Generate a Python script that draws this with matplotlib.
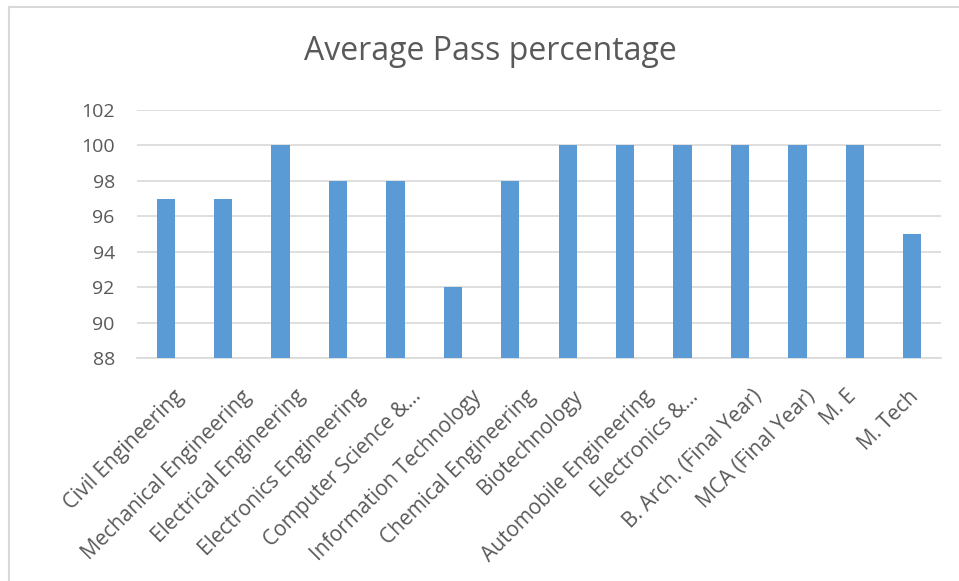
import matplotlib.pyplot as plt
import matplotlib.transforms as mtransforms
from matplotlib.lines import Line2D

categories = ['Civil Engineering', 'Mechanical Engineering', 'Electrical Engineering',
              'Electronics Engineering', 'Computer Science &...', 'Information Technology',
              'Chemical Engineering', 'Biotechnology', 'Automobile Engineering',
              'Electronics &...', 'B. Arch. (Final Year)', 'MCA (Final Year)', 'M. E', 'M. Tech']
pass_pct = [97, 97, 100, 98, 98, 92, 98, 100, 100, 100, 100, 100, 100, 95]
y_ticks = [88, 90, 92, 94, 96, 98, 100, 102]

plt.rcParams['font.family'] = ['Open Sans', 'DejaVu Sans']
text_color = '#595959'

fig = plt.figure(figsize=(9.59, 5.81), dpi=100)
W, H = 959, 581
ax = fig.add_axes([137 / W, 1 - 358 / H, (941 - 137) / W, (358 - 110) / H])

x = list(range(len(categories)))
ax.bar(x, pass_pct, width=0.32, color='#5B9BD5', zorder=3)

ax.set_ylim(88, 102)
ax.set_xlim(-0.5, len(categories) - 0.5)
ax.set_yticks(y_ticks)
ax.set_yticklabels([str(v) for v in y_ticks], fontsize=14, color=text_color)
ax.set_xticks(x)
ax.set_xticklabels([])
ax.tick_params(axis='both', length=0)
ax.tick_params(axis='y', pad=16)

# rotated category labels; like Excel, longer labels sit a bit further right
trans = ax.get_xaxis_transform()
renderer = fig.canvas.get_renderer()
for i, name in enumerate(categories):
    t = ax.text(i, 0, name, rotation=45, ha='right', va='top', rotation_mode='anchor',
                fontsize=15, color=text_color, transform=trans)
    bb = t.get_window_extent(renderer)
    dx = 0.2 * (bb.width - 105) + 3
    t.set_transform(mtransforms.offset_copy(trans, fig=fig, x=dx, y=-28, units='dots'))

ax.grid(axis='y', color='#D9D9D9', linewidth=1.2, zorder=0)
for s in ['top', 'right', 'left']:
    ax.spines[s].set_visible(False)
ax.spines['bottom'].set_color('#D9D9D9')
ax.spines['bottom'].set_linewidth(1.2)

fig.text(490 / W, 1 - 51 / H, 'Average Pass percentage', ha='center', va='center',
         fontsize=23, color=text_color)

# chart frame (only top and left edges visible in the reference)
fig.add_artist(Line2D([9 / W, 1], [1 - 7 / H, 1 - 7 / H], color='#D9D9D9', linewidth=1.5))
fig.add_artist(Line2D([9 / W, 9 / W], [0, 1 - 7 / H], color='#D9D9D9', linewidth=1.5))

fig.savefig('out.png', dpi=100)
